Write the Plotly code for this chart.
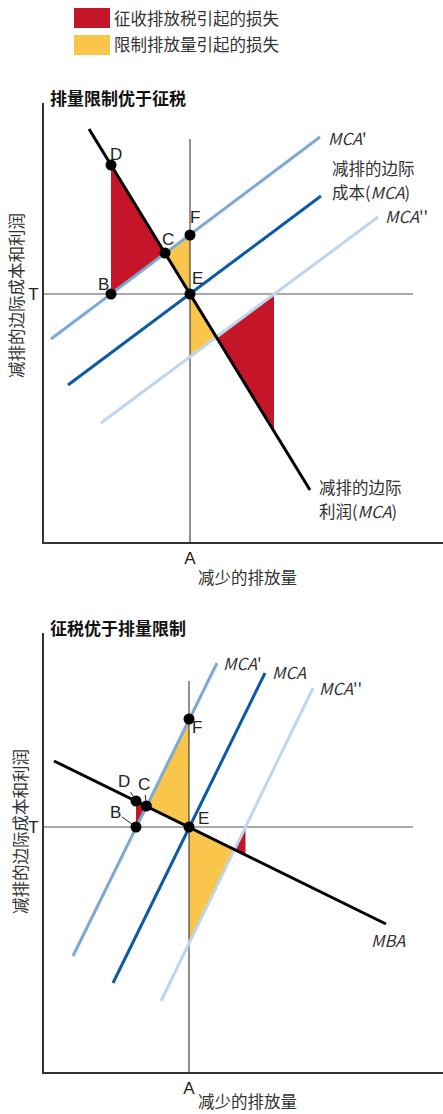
import plotly.graph_objects as go
from plotly.subplots import make_subplots

# ---- 数据（坐标单位：示意图单位） ----
# 上图：排量限制优于征税
T1, A1 = 248, 146
mba1_x, mba1_y = [45, 266], [413, 52]
mcap1_x, mcap1_y = [7, 276], [203, 405]
mca1_x, mca1_y = [24, 277], [157, 346]
mcapp1_x, mcapp1_y = [57, 334], [119, 325]
red1a_x, red1a_y = [67, 67, 121], [377, 248, 289]          # D-B-C
yel1a_x, yel1a_y = [121, 146, 146], [289, 307, 248]        # C-F-E
yel1b_x, yel1b_y = [146, 146, 172.5], [248, 185, 205]
red1b_x, red1b_y = [230, 172.5, 230], [248, 205, 111]
pts1_x = [67, 121, 146, 67, 146]     # D C F B E
pts1_y = [377, 289, 307, 248, 248]

# 下图：征税优于排量限制
T2, A2 = 245, 145
mba2_x, mba2_y = [10, 342], [311, 148]
mcap2_x, mcap2_y = [29, 173], [116, 409]
mca2_x, mca2_y = [69, 221], [89, 399]
mcapp2_x, mcapp2_y = [117, 269], [71, 384]
red2a_x, red2a_y = [92, 92, 102.3], [271, 245, 266]
yel2a_x, yel2a_y = [102.3, 145, 145], [266, 353, 245]
yel2b_x, yel2b_y = [145, 145, 190.6], [245, 130, 222.6]
red2b_x, red2b_y = [201.5, 190.6, 201.5], [245, 222.6, 217]
pts2_x = [92, 102.3, 145, 92, 145]
pts2_y = [271, 266, 353, 245, 245]

RED = "#C41628"
YEL = "#F9C54B"
C_MCAP = "#7EA8D6"
C_MCA = "#0A5AA8"
C_MCAPP = "#BDD6EE"
CJK = "Noto Sans CJK SC"
NARROW = "Liberation Sans Narrow, Liberation Sans, Arial"

W, H = 443, 1114
fig = make_subplots(rows=2, cols=1)


def px_y(p):
    return (H - p) / H


fig.update_layout(
    width=W, height=H, margin=dict(l=0, r=0, t=0, b=0),
    plot_bgcolor="white", paper_bgcolor="white", showlegend=False,
    hovermode=False,
    xaxis=dict(domain=[44 / W, 1], anchor="y"),
    yaxis=dict(domain=[px_y(542), px_y(103)], anchor="x"),
    xaxis2=dict(domain=[44 / W, 1], anchor="y2"),
    yaxis2=dict(domain=[px_y(1072), px_y(633)], anchor="x2"),
)


def panel(row, T, A, lines, reds, yels, pts, vtop):
    for xs, ys in reds:
        fig.add_trace(go.Scatter(x=xs, y=ys, fill="toself", fillcolor=RED,
                                 mode="none"), row=row, col=1)
    for xs, ys in yels:
        fig.add_trace(go.Scatter(x=xs, y=ys, fill="toself", fillcolor=YEL,
                                 mode="none"), row=row, col=1)
    # T 和 A 参考线
    fig.add_trace(go.Scatter(x=[0, 369], y=[T, T], mode="lines",
                             line=dict(color="#555555", width=1.2)), row=row, col=1)
    fig.add_trace(go.Scatter(x=[A, A], y=[0, vtop], mode="lines",
                             line=dict(color="#222222", width=1)), row=row, col=1)
    for xs, ys, c in lines:
        fig.add_trace(go.Scatter(x=xs, y=ys, mode="lines",
                                 line=dict(color=c, width=3)), row=row, col=1)
    fig.add_trace(go.Scatter(x=pts[0], y=pts[1], mode="markers",
                             marker=dict(color="black", size=11)), row=row, col=1)
    fig.update_xaxes(range=[0, 399], showgrid=False, zeroline=False,
                     showline=True, linecolor="#333333", linewidth=2,
                     tickvals=[A], ticktext=["A"], ticks="",
                     tickfont=dict(family=NARROW, size=17, color="#222222"),
                     row=row, col=1)
    fig.update_yaxes(range=[0, 439], showgrid=False, zeroline=False,
                     showline=True, linecolor="#333333", linewidth=2,
                     tickvals=[T], ticktext=["T"], ticks="",
                     tickfont=dict(family=NARROW, size=17, color="#222222"),
                     row=row, col=1)


panel(1, T1, A1,
      [(mcap1_x, mcap1_y, C_MCAP), (mca1_x, mca1_y, C_MCA),
       (mcapp1_x, mcapp1_y, C_MCAPP), (mba1_x, mba1_y, "black")],
      [(red1a_x, red1a_y), (red1b_x, red1b_y)],
      [(yel1a_x, yel1a_y), (yel1b_x, yel1b_y)],
      (pts1_x, pts1_y), 403)
panel(2, T2, A2,
      [(mcap2_x, mcap2_y, C_MCAP), (mca2_x, mca2_y, C_MCA),
       (mcapp2_x, mcapp2_y, C_MCAPP), (mba2_x, mba2_y, "black")],
      [(red2a_x, red2a_y), (red2b_x, red2b_y)],
      [(yel2a_x, yel2a_y), (yel2b_x, yel2b_y)],
      (pts2_x, pts2_y), 391)

TXT = dict(family=CJK, size=16.5, color="#333333")
LAB = dict(family=NARROW, size=17, color="#222222")


def note(text, x, y, ref, font=TXT, xanchor="center", align="left", **kw):
    fig.add_annotation(text=text, x=x, y=y, xref="x" + ref, yref="y" + ref,
                       showarrow=False, font=font, xanchor=xanchor,
                       yanchor="middle", align=align, **kw)


def pnote(text, x, y, font=TXT, xanchor="left", **kw):
    fig.add_annotation(text=text, x=x / W, y=px_y(y), xref="paper", yref="paper",
                       showarrow=False, font=font, xanchor=xanchor,
                       yanchor="middle", **kw)


# 图例
fig.add_shape(type="rect", xref="paper", yref="paper", x0=74 / W, x1=110 / W,
              y0=px_y(28), y1=px_y(8), fillcolor=RED, line_width=0)
fig.add_shape(type="rect", xref="paper", yref="paper", x0=74 / W, x1=110 / W,
              y0=px_y(55), y1=px_y(35), fillcolor=YEL, line_width=0)
pnote("征收排放税引起的损失", 112, 18)
pnote("限制排放量引起的损失", 112, 44)

# 标题
TT = dict(family=CJK, size=17, color="#111111")
pnote("<b>排量限制优于征税</b>", 48, 97, font=TT)
pnote("<b>征税优于排量限制</b>", 48, 627, font=TT)

# 轴标题
pnote("减排的边际成本和利润", 16, 296, xanchor="center", textangle=-90)
pnote("减少的排放量", 247, 577, xanchor="center")
pnote("减排的边际成本和利润", 20, 832, xanchor="center", textangle=-90)
pnote("减少的排放量", 247, 1101, xanchor="center")

# 上图标注
note("D", 72, 387, "", font=LAB)
note("C", 124, 302, "", font=LAB)
note("F", 151, 324, "", font=LAB)
note("E", 153, 264, "", font=LAB)
note("B", 59, 258, "", font=LAB)
note("<i>MCA</i>'", 282, 404, "", xanchor="left")
note("减排的边际", 286, 374, "", xanchor="left")
note("成本(<i>MCA</i>)", 286, 350, "", xanchor="left")
note("<i>MCA</i>''", 339, 326, "", xanchor="left")
note("减排的边际", 273, 55, "", xanchor="left")
note("利润(<i>MCA</i>)", 273, 31, "", xanchor="left")

# 下图标注
note("<i>MCA</i>'", 177, 409, "2", xanchor="left")
note("<i>MCA</i>", 226, 400, "2", xanchor="left")
note("<i>MCA</i>''", 273, 384, "2", xanchor="left")
note("F", 153, 345, "2", font=LAB)
note("E", 159, 254, "2", font=LAB)
note("<i>MBA</i>", 344, 132, "2")
for lab, x, y, ax, ay in [("D", pts2_x[0], pts2_y[0], -12, -20),
                          ("C", pts2_x[1], pts2_y[1], -2, -22),
                          ("B", pts2_x[3], pts2_y[3], -21, -15)]:
    fig.add_annotation(text=lab, x=x, y=y, xref="x2", yref="y2", showarrow=True,
                       arrowhead=0, arrowwidth=1, arrowcolor="#222222",
                       ax=ax, ay=ay, font=LAB, standoff=4)

fig.write_html("out.html", config={"displayModeBar": False},
               post_script="document.body.style.margin='0';"
                           "document.body.style.overflow='hidden';")
